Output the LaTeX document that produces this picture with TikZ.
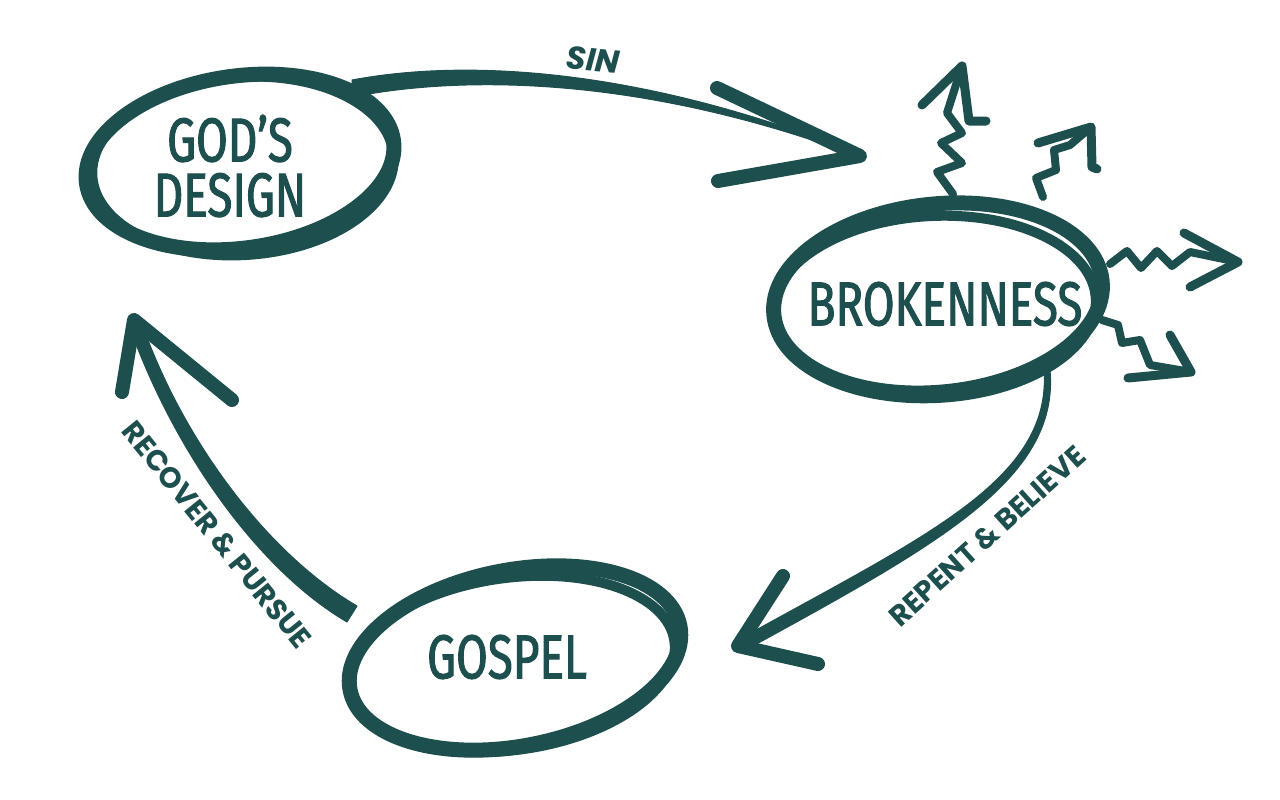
\documentclass[tikz,border=0pt]{standalone}
\usepackage{fontspec}
\setmainfont{Fira Sans}
\newfontfamily\bigf[FakeStretch=0.74,FakeBold=1.6]{Fira Sans}
\newfontfamily\labf{Poppins}
\usetikzlibrary{calc}
\definecolor{ink}{RGB}{29,79,78}
\begin{document}
\begin{tikzpicture}[x=1pt,y=-1pt,
  ring/.style={draw=ink, line width=15pt},
  ringb/.style={draw=ink, line width=10pt},
  taper/.style={fill=ink, draw=ink, line width=1pt, line join=round},
  head/.style={draw=ink, line width=14pt, line cap=round, line join=round},
  zz/.style={draw=ink, line width=8pt, line cap=round, line join=round},
  zh/.style={draw=ink, line width=9pt, line cap=round, line join=round},
  title/.style={text=ink, font=\bigf\fontsize{62}{55}\selectfont, align=center, inner sep=0pt},
  lab/.style={text=ink, font=\labf\bfseries\fontsize{29}{29}\selectfont, inner sep=0pt}]
\useasboundingbox (0,0) rectangle (1280,800);
% titles
\node[title] (gd) at (230,166) {GOD’S\\DESIGN};
\node[title] (br) at (945,304) {BROKENNESS};
\node[title] (gs) at (507,657) {GOSPEL};
% rings
\draw[ring, rotate around={8:(240,162)}] (240,162) ellipse [x radius=155pt, y radius=86pt];
\draw[ringb, rotate around={4:(243,166)}] (243,166) ellipse [x radius=151pt, y radius=89pt];
\draw[ring, rotate around={6:(938,298)}] (938,298) ellipse [x radius=165pt, y radius=94pt];
\draw[ringb, rotate around={3:(934,307)}] (934,307) ellipse [x radius=162pt, y radius=91pt];
\draw[ring, rotate around={11:(515,658)}] (515,658) ellipse [x radius=168pt, y radius=88pt];
\draw[ringb, rotate around={8:(511,664)}] (511,664) ellipse [x radius=165pt, y radius=86pt];
% SIN arrow
\coordinate (sinS) at (352,88);
\coordinate (sinT) at (860,156);
\fill[taper] ($(sinS)+(0,-8)$) .. controls (480,56) and (660,74) .. ($(sinT)+(0,-1)$)
  -- ($(sinT)+(0,1)$) .. controls (660,82) and (480,72) .. ($(sinS)+(0,9)$) -- cycle;
\draw[head] (717,88) -- (sinT) -- (718,181);
\node[lab, font=\labf\bfseries\itshape\fontsize{32}{32}\selectfont, rotate=-5] (sinL) at (593,60) {SIN};
% REPENT arrow
\coordinate (rbS) at (1047,370);
\coordinate (rbT) at (738,646);
\fill[taper] ($(rbS)+(-3,0)$) .. controls (1052,480) and (925,536) .. ($(rbT)+(0,-6)$)
  -- ($(rbT)+(4,6)$) .. controls (935,546) and (1060,480) .. ($(rbS)+(3,0)$) -- cycle;
\draw[head] (783,576) -- (rbT) -- (818,664);
\node[lab, rotate=42] (rbL) at (987,536) {REPENT \& BELIEVE};
% RECOVER arrow
\coordinate (rpS) at (352,614);
\coordinate (rpT) at (134,320);
\fill[taper] ($(rpS)+(5,-8)$) .. controls (265,552) and (180,436) .. ($(rpT)+(6,-2)$)
  -- ($(rpT)+(-6,2)$) .. controls (170,444) and (255,568) .. ($(rpS)+(-5,8)$) -- cycle;
\draw[head] (122,392) -- (rpT) -- (232,400);
\node[lab, rotate=-51] (rpL) at (217,535) {RECOVER \& PURSUE};
% zigzag arrows
\coordinate (b1) at (953,194); \coordinate (t1) at (962,66);
\coordinate (b2) at (1043,197); \coordinate (t2) at (1091,127);
\coordinate (b3) at (1110,264); \coordinate (t3) at (1238,262);
\coordinate (b4) at (1102,320); \coordinate (t4) at (1191,372);
\draw[zz] (b1) -- (937,172) -- (962,163) -- (941,143) -- (962,133) -- (947,113) -- (t1);
\draw[zh] (922,105) -- (t1) -- (969,121) -- (986,121);
\draw[zz] (b2) -- (1036,178) -- (1056,170) -- (1054,150) -- (1070,145) -- (t2);
\draw[zh] (1038,143) -- (t2) -- (1092,167) -- (1097,169);
\draw[zz] (b3) -- (1127,251) -- (1141,268) -- (1157,251) -- (1172,266) -- (1190,252) -- (t3);
\draw[zh] (1184,233) -- (t3) -- (1190,287);
\draw[zz] (b4) -- (1118,325) -- (1122,343) -- (1140,340) -- (1150,365) -- (t4);
\draw[zh] (1170,335) -- (t4) -- (1128,378);
\end{tikzpicture}
\end{document}
